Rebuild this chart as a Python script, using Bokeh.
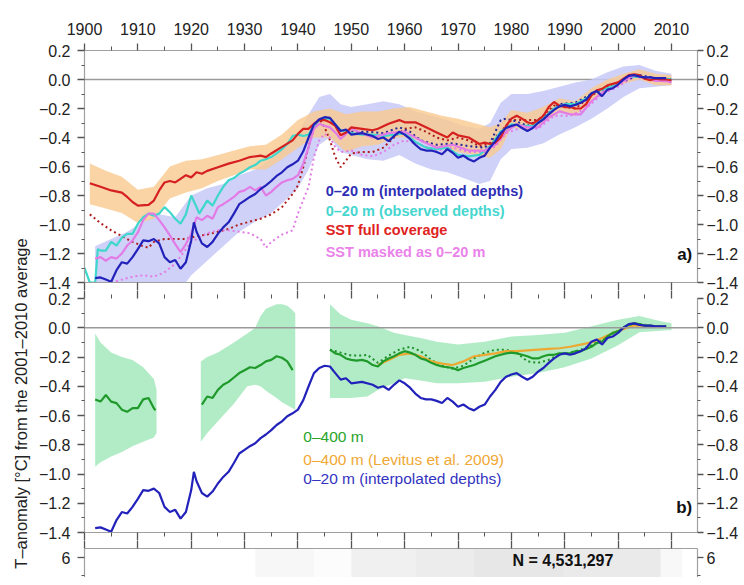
import math
from bokeh.plotting import figure
from bokeh.models import Range1d, LinearAxis, FixedTicker, Span, CustomJSTickFormatter, LinearColorMapper, ColumnDataSource
from bokeh.layouts import column, row
from bokeh.embed import file_html
from bokeh.resources import INLINE
from bokeh.core.properties import value
from bokeh.palettes import Greys256

FONT = "Liberation Sans"

# ---------------- data ----------------
decades = [1900, 1910, 1920, 1930, 1940, 1950, 1960, 1970, 1980, 1990, 2000, 2010]
half_decades = [1905, 1915, 1925, 1935, 1945, 1955, 1965, 1975, 1985, 1995, 2005]
t_ticks = [-1.4, -1.2, -1.0, -0.8, -0.6, -0.4, -0.2, 0.0, 0.2]
t_minor = [-1.3, -1.1, -0.9, -0.7, -0.5, -0.3, -0.1, 0.1]

# SST full coverage (red)
sst_years = [1901, 1903, 1905, 1907, 1908, 1909, 1910, 1912, 1913, 1914,
             1915, 1916, 1917, 1918, 1919, 1920, 1921, 1922, 1923, 1925,
             1927, 1929, 1931, 1933, 1934, 1935, 1937, 1939, 1940, 1941,
             1942, 1943, 1944, 1945, 1946, 1947, 1948, 1949, 1950, 1952,
             1954, 1955, 1957, 1959, 1960, 1962, 1964, 1966, 1968, 1969,
             1970, 1972, 1974, 1975, 1976, 1977, 1978, 1979, 1980, 1981,
             1982, 1983, 1984, 1985, 1986, 1987, 1988, 1989, 1990, 1991,
             1992, 1993, 1994, 1995, 1996, 1997, 1998, 1999, 2000, 2002,
             2003, 2004, 2005, 2006, 2007, 2008, 2009, 2010]
sst_full = [-0.715, -0.74, -0.765, -0.78, -0.81, -0.845, -0.87, -0.865, -0.835, -0.765,
            -0.71, -0.70, -0.71, -0.685, -0.66, -0.675, -0.64, -0.65, -0.63, -0.605,
            -0.58, -0.56, -0.535, -0.525, -0.535, -0.51, -0.465, -0.42, -0.375, -0.34,
            -0.34, -0.305, -0.28, -0.28, -0.295, -0.32, -0.385, -0.365, -0.33, -0.34,
            -0.35, -0.34, -0.305, -0.28, -0.295, -0.295, -0.33, -0.365, -0.40, -0.365,
            -0.385, -0.40, -0.445, -0.435, -0.445, -0.435, -0.40, -0.32, -0.27, -0.25,
            -0.27, -0.295, -0.305, -0.28, -0.25, -0.19, -0.155, -0.18, -0.19, -0.19,
            -0.20, -0.20, -0.17, -0.11, -0.075, -0.065, -0.04, -0.03, -0.02, 0.03,
            0.035, 0.03, 0.005, -0.005, 0.005, 0.0, 0.0, -0.005]

# SST full coverage uncertainty (orange band)
sst_band_years = [1901, 1904, 1907, 1910, 1913, 1916, 1919, 1922, 1925, 1928,
                  1931, 1934, 1937, 1940, 1943, 1946, 1949, 1952, 1955, 1958,
                  1961, 1964, 1967, 1970, 1973, 1976, 1978, 1980, 1983, 1986,
                  1989, 1992, 1995, 1998, 2001, 2004, 2007, 2010]
sst_band_hi = [-0.58, -0.63, -0.67, -0.76, -0.74, -0.60, -0.56, -0.55, -0.52, -0.49,
               -0.46, -0.45, -0.38, -0.28, -0.22, -0.20, -0.24, -0.22, -0.22, -0.20,
               -0.19, -0.22, -0.25, -0.27, -0.30, -0.33, -0.30, -0.21, -0.23, -0.19,
               -0.13, -0.15, -0.06, 0.00, 0.04, 0.07, 0.04, 0.03]
sst_band_lo = [-0.86, -0.89, -0.92, -0.99, -0.96, -0.82, -0.78, -0.75, -0.70, -0.66,
               -0.62, -0.62, -0.55, -0.47, -0.40, -0.40, -0.50, -0.46, -0.45, -0.40,
               -0.40, -0.44, -0.48, -0.50, -0.52, -0.54, -0.48, -0.33, -0.35, -0.30,
               -0.23, -0.25, -0.15, -0.08, -0.03, 0.00, -0.04, -0.04]

# 0-20 m (interpolated depths) (dark blue)
i20_years = [1902, 1903, 1904, 1905, 1906, 1907, 1908, 1909, 1910, 1911,
             1912, 1913, 1914, 1915, 1916, 1917, 1918, 1919, 1920, 1920.5,
             1921, 1922, 1923, 1924, 1925, 1926, 1927, 1928, 1929, 1930,
             1931, 1932, 1933, 1934, 1935, 1936, 1937, 1938, 1939, 1940,
             1941, 1942, 1943, 1944, 1945, 1946, 1947, 1948, 1949, 1950,
             1952, 1954, 1955, 1956, 1957, 1958, 1959, 1960, 1961, 1962,
             1963, 1964, 1965, 1966, 1967, 1968, 1969, 1970, 1971, 1972,
             1973, 1974, 1975, 1976, 1977, 1978, 1979, 1980, 1981, 1982,
             1983, 1984, 1985, 1986, 1987, 1988, 1989, 1990, 1991, 1992,
             1993, 1994, 1995, 1996, 1997, 1998, 1999, 2000, 2001, 2002,
             2003, 2004, 2005, 2006, 2007, 2008, 2009]
i20_vals = [-1.37, -1.365, -1.38, -1.395, -1.315, -1.26, -1.27, -1.225, -1.17, -1.11,
            -1.115, -1.10, -1.13, -1.225, -1.26, -1.245, -1.305, -1.26, -1.11, -0.985,
            -1.05, -1.13, -1.155, -1.12, -1.065, -1.02, -0.985, -0.925, -0.86, -0.835,
            -0.81, -0.79, -0.755, -0.73, -0.70, -0.665, -0.64, -0.605, -0.585, -0.56,
            -0.495, -0.40, -0.31, -0.275, -0.26, -0.265, -0.31, -0.355, -0.345, -0.38,
            -0.37, -0.39, -0.41, -0.40, -0.425, -0.39, -0.36, -0.38, -0.41, -0.45,
            -0.48, -0.49, -0.49, -0.50, -0.515, -0.48, -0.505, -0.54, -0.525, -0.55,
            -0.565, -0.54, -0.525, -0.47, -0.425, -0.37, -0.335, -0.32, -0.31, -0.335,
            -0.355, -0.335, -0.30, -0.275, -0.24, -0.21, -0.185, -0.175, -0.185, -0.175,
            -0.16, -0.14, -0.095, -0.08, -0.115, -0.07, -0.06, -0.035, 0.0, 0.025,
            0.03, 0.02, 0.015, 0.015, 0.01, 0.01, 0.01]

# 0-20 m (interpolated depths) uncertainty (lavender band)
i20_band_years = [1902, 1905, 1908, 1911, 1914, 1917, 1920, 1923, 1926, 1929,
                  1932, 1935, 1938, 1940, 1942, 1944, 1946, 1948, 1950, 1953,
                  1956, 1959, 1962, 1965, 1968, 1971, 1974, 1976, 1978, 1980,
                  1983, 1986, 1989, 1992, 1995, 1998, 2001, 2004, 2007, 2010]
i20_band_hi = [-1.15, -1.10, -1.05, -0.98, -0.93, -0.95, -0.80, -0.75, -0.72, -0.66,
               -0.62, -0.55, -0.45, -0.37, -0.24, -0.12, -0.10, -0.17, -0.19, -0.17,
               -0.15, -0.17, -0.22, -0.25, -0.28, -0.32, -0.34, -0.30, -0.16, -0.10,
               -0.10, -0.08, -0.05, -0.02, 0.00, 0.05, 0.09, 0.10, 0.06, 0.04]
i20_band_lo = [-1.50, -1.50, -1.50, -1.50, -1.50, -1.50, -1.35, -1.25, -1.15, -1.05,
               -0.98, -0.92, -0.82, -0.75, -0.62, -0.45, -0.40, -0.50, -0.52, -0.55,
               -0.56, -0.52, -0.58, -0.62, -0.64, -0.68, -0.72, -0.70, -0.55, -0.48,
               -0.47, -0.44, -0.38, -0.33, -0.27, -0.20, -0.12, -0.06, -0.05, -0.04]

# 0-20 m (observed depths) (cyan)
o20_years = [1900, 1901, 1902, 1902.5, 1903, 1904, 1905, 1906, 1907, 1908,
             1909, 1910, 1911, 1912, 1913, 1914, 1915, 1916, 1917, 1918,
             1919, 1920, 1921, 1921.5, 1923, 1924, 1925, 1926, 1927, 1928,
             1929, 1930, 1931, 1932, 1933, 1934, 1935, 1936, 1937, 1938,
             1939, 1940, 1941, 1942, 1943, 1944, 1945, 1946, 1948, 1950,
             1952, 1954, 1956, 1958, 1960, 1962, 1964, 1966, 1968, 1970,
             1972, 1974, 1976, 1978, 1980, 1982, 1984, 1986, 1988, 1990,
             1992, 1994, 1996, 1998, 2000, 2002, 2004, 2006, 2008, 2010]
o20_vals = [-1.30, -1.40, -1.40, -1.17, -1.18, -1.18, -1.12, -1.145, -1.09, -1.065,
            -1.065, -0.995, -0.95, -0.925, -0.94, -0.925, -0.88, -0.915, -0.96, -0.995,
            -0.93, -0.80, -0.88, -0.925, -0.835, -0.87, -0.80, -0.74, -0.695, -0.68,
            -0.65, -0.63, -0.605, -0.59, -0.56, -0.55, -0.535, -0.51, -0.48, -0.445,
            -0.39, -0.38, -0.39, -0.38, -0.32, -0.28, -0.27, -0.27, -0.35, -0.37,
            -0.38, -0.38, -0.39, -0.38, -0.37, -0.43, -0.47, -0.48, -0.47, -0.52,
            -0.53, -0.52, -0.46, -0.36, -0.31, -0.32, -0.32, -0.27, -0.20, -0.17,
            -0.17, -0.13, -0.08, -0.06, -0.03, 0.02, 0.02, 0.01, 0.01, 0.0]

# SST masked as 0-20 m (violet)
msk_years = [1902, 1903, 1904, 1905, 1906, 1907, 1908, 1909, 1910, 1911,
             1912, 1913, 1914, 1915, 1916, 1917, 1918, 1919, 1920, 1921,
             1922, 1923, 1924, 1925, 1926, 1927, 1928, 1929, 1930, 1931,
             1932, 1933, 1934, 1935, 1936, 1937, 1938, 1939, 1940, 1941,
             1942, 1943, 1944, 1945, 1946, 1947, 1948, 1949, 1950, 1952,
             1954, 1957, 1960, 1963, 1966, 1969, 1972, 1975, 1977, 1979,
             1981, 1983, 1985, 1987, 1989, 1991, 1993, 1995, 1997, 1999,
             2001, 2003, 2005, 2007, 2009, 2010]
msk_vals = [-1.235, -1.225, -1.25, -1.225, -1.235, -1.2, -1.145, -1.11, -1.055, -0.97,
            -0.925, -0.925, -0.97, -1.02, -1.075, -1.135, -1.19, -1.135, -1.065, -0.95,
            -0.97, -0.94, -0.96, -0.88, -0.86, -0.835, -0.81, -0.775, -0.765, -0.74,
            -0.765, -0.74, -0.80, -0.775, -0.74, -0.71, -0.695, -0.685, -0.66, -0.58,
            -0.465, -0.34, -0.305, -0.32, -0.33, -0.365, -0.41, -0.375, -0.34, -0.37,
            -0.40, -0.37, -0.36, -0.42, -0.47, -0.45, -0.49, -0.49, -0.45, -0.36,
            -0.31, -0.33, -0.33, -0.26, -0.22, -0.24, -0.24, -0.15, -0.09, -0.06,
            -0.01, 0.03, 0.01, -0.01, -0.01, -0.02]

# dotted companions (panel a)
sstd_years = [1901, 1903, 1905, 1907, 1909, 1911, 1912, 1913, 1915, 1917,
              1919, 1921, 1923, 1925, 1927, 1929, 1931, 1933, 1935, 1937,
              1939, 1940, 1941, 1942, 1943, 1944, 1945, 1946, 1947, 1948,
              1949, 1950, 1952, 1954, 1956, 1958, 1960, 1962, 1964, 1966,
              1968, 1970, 1972, 1974, 1976, 1978, 1980, 1982, 1985, 1988,
              1990, 1992, 1995, 1998, 2000, 2003, 2005, 2008, 2010]
sstd_vals = [-0.93, -0.99, -1.04, -1.08, -1.12, -1.15, -1.16, -1.12, -1.10, -1.10,
             -1.10, -1.08, -1.07, -1.05, -1.03, -1.00, -0.98, -0.96, -0.93, -0.88,
             -0.79, -0.73, -0.605, -0.465, -0.33, -0.27, -0.33, -0.42, -0.535, -0.605,
             -0.56, -0.51, -0.50, -0.50, -0.47, -0.40, -0.34, -0.33, -0.36, -0.40,
             -0.42, -0.40, -0.42, -0.46, -0.44, -0.36, -0.28, -0.28, -0.28, -0.18,
             -0.19, -0.20, -0.11, -0.05, -0.02, 0.03, 0.01, 0.0, 0.0]

mskd_years = [1905, 1907, 1909, 1911, 1913, 1915, 1917, 1919, 1920, 1921,
              1923, 1925, 1927, 1929, 1931, 1933, 1934, 1935, 1937, 1939,
              1940, 1941, 1942, 1943, 1944, 1945, 1946, 1947, 1948, 1950,
              1952, 1954, 1956, 1958, 1960, 1963, 1966, 1969, 1972, 1975,
              1977, 1979, 1982, 1985, 1988, 1991, 1994, 1997, 2000, 2003,
              2006, 2010]
mskd_vals = [-1.40, -1.38, -1.36, -1.35, -1.36, -1.33, -1.27, -1.17, -1.12, -1.10,
             -1.06, -1.04, -1.04, -1.05, -1.06, -1.10, -1.16, -1.12, -1.07, -1.04,
             -0.925, -0.83, -0.74, -0.535, -0.42, -0.375, -0.40, -0.465, -0.50, -0.49,
             -0.52, -0.53, -0.50, -0.45, -0.42, -0.45, -0.49, -0.47, -0.50, -0.50,
             -0.46, -0.37, -0.33, -0.34, -0.25, -0.25, -0.20, -0.10, -0.05, 0.02,
             0.0, -0.02]

i20d_years = [1950, 1953, 1956, 1959, 1961, 1963, 1966, 1969, 1972, 1975,
              1976, 1977, 1978, 1979, 1981, 1983, 1986, 1989, 1992, 1995,
              1998, 2001, 2004, 2007, 2010]
i20d_vals = [-0.36, -0.36, -0.37, -0.33, -0.36, -0.42, -0.45, -0.44, -0.46, -0.47,
             -0.44, -0.36, -0.28, -0.27, -0.29, -0.32, -0.26, -0.17, -0.16, -0.10,
             -0.06, -0.01, 0.03, 0.01, 0.0]

# 0-400 m (green), three segments
g400_years_1 = [1902, 1903, 1904, 1905, 1906, 1907, 1908, 1909, 1910, 1911, 1912, 1913, 1913.3]
g400_vals_1 = [-0.49, -0.505, -0.46, -0.505, -0.515, -0.56, -0.575, -0.55, -0.55, -0.49, -0.48, -0.55, -0.565]
g400_years_2 = [1922, 1923, 1924, 1925, 1926, 1927, 1928, 1929, 1930, 1931,
                1932, 1933, 1934, 1935, 1936, 1937, 1938, 1939]
g400_vals_2 = [-0.525, -0.47, -0.48, -0.425, -0.39, -0.37, -0.34, -0.31, -0.29, -0.27,
               -0.275, -0.255, -0.23, -0.22, -0.195, -0.205, -0.23, -0.29]
g400_years_3 = [1946, 1947, 1948, 1949, 1950, 1951, 1952, 1953, 1954, 1955,
                1956, 1957, 1958, 1959, 1960, 1961, 1962, 1963, 1964, 1965,
                1966, 1967, 1968, 1969, 1970, 1971, 1972, 1973, 1974, 1975,
                1976, 1977, 1978, 1979, 1980, 1981, 1982, 1983, 1984, 1985,
                1986, 1987, 1988, 1989, 1990, 1991, 1992, 1993, 1994, 1995,
                1996, 1997, 1998, 1999, 2000, 2001, 2002, 2003, 2004, 2005,
                2006, 2007, 2008, 2009]
g400_vals_3 = [-0.15, -0.175, -0.185, -0.21, -0.22, -0.225, -0.22, -0.23, -0.255, -0.265,
               -0.23, -0.21, -0.195, -0.175, -0.16, -0.17, -0.185, -0.21, -0.22, -0.24,
               -0.255, -0.265, -0.27, -0.275, -0.29, -0.275, -0.265, -0.255, -0.24, -0.225,
               -0.21, -0.195, -0.185, -0.175, -0.17, -0.175, -0.185, -0.195, -0.21, -0.21,
               -0.195, -0.185, -0.185, -0.175, -0.175, -0.175, -0.16, -0.16, -0.145, -0.13,
               -0.105, -0.095, -0.06, -0.035, -0.025, 0.0, 0.02, 0.03, 0.025, 0.015,
               0.015, 0.01, 0.01, 0.01]

g400_band_years_1 = [1902, 1903, 1905, 1907, 1909, 1911, 1913, 1913.5]
g400_band_hi_1 = [-0.04, -0.10, -0.17, -0.20, -0.22, -0.27, -0.35, -0.42]
g400_band_lo_1 = [-0.95, -0.92, -0.88, -0.85, -0.81, -0.78, -0.75, -0.72]
g400_band_years_2 = [1921.8, 1923, 1925, 1928, 1930.5, 1932, 1933, 1934, 1936, 1937, 1938, 1939, 1939.5]
g400_band_hi_2 = [-0.23, -0.20, -0.17, -0.10, -0.04, 0.0, 0.08, 0.13, 0.16, 0.16, 0.15, 0.12, 0.10]
g400_band_lo_2 = [-0.78, -0.72, -0.64, -0.52, -0.40, -0.39, -0.40, -0.43, -0.48, -0.51, -0.53, -0.55, -0.56]
g400_band_years_3 = [1946, 1948, 1950, 1953, 1955, 1958, 1960, 1963, 1966, 1970,
                     1975, 1980, 1985, 1990, 1995, 2000, 2004, 2008, 2010]
g400_band_hi_3 = [0.16, 0.09, 0.055, 0.03, 0.01, -0.035, -0.05, -0.07, -0.095, -0.115,
                  -0.095, -0.06, -0.05, -0.035, 0.01, 0.055, 0.08, 0.045, 0.03]
g400_band_lo_3 = [-0.48, -0.48, -0.48, -0.47, -0.425, -0.38, -0.345, -0.36, -0.38, -0.38,
                  -0.37, -0.335, -0.31, -0.27, -0.21, -0.12, -0.03, -0.02, -0.015]

g400d_years = [1946, 1948, 1950, 1952, 1953, 1955, 1957, 1959, 1961, 1963,
               1965, 1967, 1969, 1971, 1973, 1975, 1977, 1979, 1981, 1983,
               1985, 1987, 1989, 1991, 1993, 1995, 1997, 1999, 2001, 2003,
               2005, 2007, 2009]
g400d_vals = [-0.15, -0.17, -0.19, -0.19, -0.185, -0.24, -0.19, -0.15, -0.13, -0.16,
              -0.22, -0.26, -0.28, -0.26, -0.21, -0.17, -0.15, -0.15, -0.17, -0.23,
              -0.24, -0.22, -0.18, -0.17, -0.15, -0.12, -0.08, -0.04, 0.0, 0.03,
              0.02, 0.01, 0.01]

# 0-400 m (Levitus et al. 2009) (orange)
lev_years = [1955, 1957, 1959, 1961, 1963, 1965, 1967, 1969, 1971, 1973,
             1975, 1977, 1979, 1981, 1983, 1985, 1987, 1989, 1991, 1993,
             1995, 1997, 1999, 2001, 2003, 2005, 2007, 2009]
lev_vals = [-0.255, -0.22, -0.185, -0.175, -0.195, -0.23, -0.245, -0.255, -0.23, -0.195,
            -0.185, -0.175, -0.16, -0.16, -0.155, -0.15, -0.145, -0.14, -0.13, -0.115,
            -0.10, -0.07, -0.035, -0.01, 0.015, 0.015, 0.01, 0.005]

# panel c: data density (relative), per year bin
dens_left = [1932, 1943, 1950, 1962, 1973, 1990, 2008]
dens_right = [1943, 1950, 1962, 1973, 1990, 2008, 2012]
dens_val = [0.035, 0.015, 0.06, 0.075, 0.095, 0.085, 0.03]
n_profiles = "N = 4,531,297"

# ---------------- styling helpers ----------------
AX = "#a0a0a0"
TK = "#555555"
X0, X1 = 1900, 2014.88
minus_fmt = CustomJSTickFormatter(code="return tick.toFixed(1).replace('-', '\u2212');")


def panel(frame_h, top_b, bot_b, y0, y1):
    p = figure(frame_width=613, frame_height=frame_h, x_range=Range1d(X0, X1),
               y_range=Range1d(y0, y1), min_border_left=50, min_border_right=39,
               min_border_top=top_b, min_border_bottom=bot_b, toolbar_location=None,
               output_backend="svg", x_axis_location=None, y_axis_location=None, tools="")
    p.grid.visible = False
    p.outline_line_color = None
    p.background_fill_color = "white"
    p.border_fill_color = "white"
    return p


def axis(p, side, ticks, minor, out, minor_out, labels=False, line=True, standoff=6, fmt=None):
    ax = LinearAxis(ticker=FixedTicker(ticks=ticks, minor_ticks=minor))
    ax.major_tick_in = 0
    ax.minor_tick_in = 0
    ax.major_tick_out = out
    ax.minor_tick_out = minor_out
    ax.major_tick_line_color = TK if out > 0 else None
    ax.minor_tick_line_color = TK if minor_out > 0 else None
    ax.axis_line_color = AX if line else None
    ax.axis_line_width = 1.2
    ax.major_tick_line_width = 1.3
    if labels:
        ax.major_label_text_font = FONT
        ax.major_label_text_font_size = "16px"
        ax.major_label_text_color = "#222222"
        ax.major_label_standoff = standoff
        if fmt is not None:
            ax.formatter = fmt
    else:
        ax.major_label_text_font_size = "1px"
        ax.major_label_text_alpha = 0
        ax.major_label_standoff = 0
    p.add_layout(ax, side)
    return ax


def label(p, x, y, txt, color, size="15px", bold=True, align="left"):
    p.text(x=[x], y=[y], text=[txt], text_color=color, text_font=value(FONT),
           text_font_size=size, text_font_style="bold" if bold else "normal",
           text_align=align, text_baseline="middle")


# ---------------- panel a ----------------
pa = panel(232, 50, 8, -1.4, 0.2)
axis(pa, "above", decades, half_decades, 7, 4, labels=True, standoff=9)
axis(pa, "below", decades, [], 8, 0)
axis(pa, "left", t_ticks, t_minor, 7, 3, labels=True, standoff=7, fmt=minus_fmt)
axis(pa, "right", t_ticks, t_minor, 6, 3, labels=True, standoff=3, fmt=minus_fmt)
pa.add_layout(Span(location=0, dimension="width", line_color="#9a9a9a", line_width=1.5, level="underlay"))

pa.varea(x=i20_band_years, y1=i20_band_lo, y2=i20_band_hi, fill_color="#c7c9f7", fill_alpha=0.85)
pa.varea(x=sst_band_years, y1=sst_band_lo, y2=sst_band_hi, fill_color="#f9c98e", fill_alpha=0.8)
pa.line(sstd_years, sstd_vals, line_color="#b01c1c", line_width=2, line_dash="2 3")
pa.line(mskd_years, mskd_vals, line_color="#e37be6", line_width=2, line_dash="2 3")
pa.line(i20d_years, i20d_vals, line_color="#25259a", line_width=2, line_dash="2 3")
pa.line(o20_years, o20_vals, line_color="#3fd6cc", line_width=2.2)
pa.line(msk_years, msk_vals, line_color="#e37be6", line_width=2.2)
pa.line(sst_years, sst_full, line_color="#d62020", line_width=2.2)
pa.line(i20_years, i20_vals, line_color="#2222bb", line_width=2.2)

label(pa, 1945.2, -0.772, "0\u201320 m (interpolated depths)", "#2e2eb4", size="14.5px")
label(pa, 1945.2, -0.905, "0\u201320 m (observed depths)", "#45d6cf", size="14.5px")
label(pa, 1945.2, -1.04, "SST full coverage", "#e02222", size="14.5px")
label(pa, 1945.2, -1.19, "SST masked as 0\u201320 m", "#ea82ea", size="14.5px")
label(pa, 2013.9, -1.205, "a)", "#111111", size="17px", align="right")

# ---------------- panel b ----------------
pb = panel(234, 8, 8, -1.4, 0.2)
axis(pb, "above", decades, half_decades, 8, 4, line=False)
axis(pb, "below", decades, half_decades, 8, 4)
axis(pb, "left", t_ticks, t_minor, 7, 3, labels=True, standoff=7, fmt=minus_fmt)
axis(pb, "right", t_ticks, t_minor, 6, 3, labels=True, standoff=3, fmt=minus_fmt)
pb.add_layout(Span(location=0, dimension="width", line_color="#9a9a9a", line_width=1.5))

for yrs, lo, hi in [(g400_band_years_1, g400_band_lo_1, g400_band_hi_1),
                    (g400_band_years_2, g400_band_lo_2, g400_band_hi_2),
                    (g400_band_years_3, g400_band_lo_3, g400_band_hi_3)]:
    pb.varea(x=yrs, y1=lo, y2=hi, fill_color="#a3e9bd", fill_alpha=0.85)
pb.line(g400d_years, g400d_vals, line_color="#1f8f2a", line_width=2, line_dash="2 3")
pb.line(lev_years, lev_vals, line_color="#eda832", line_width=2.2)
for yrs, vals in [(g400_years_1, g400_vals_1), (g400_years_2, g400_vals_2), (g400_years_3, g400_vals_3)]:
    pb.line(yrs, vals, line_color="#1f9a2a", line_width=2.2)
pb.line(i20_years, i20_vals, line_color="#2222bb", line_width=2.2)

label(pb, 1941.0, -0.747, "0\u2013400 m", "#2aa42a", bold=False, size="15.5px")
label(pb, 1941.0, -0.904, "0\u2013400 m (Levitus et al. 2009)", "#f0a834", bold=False, size="15.5px")
label(pb, 1941.0, -1.034, "0\u201320 m (interpolated depths)", "#3333c0", bold=False, size="15.5px")
label(pb, 2013.9, -1.226, "b)", "#111111", size="17px", align="right")

# ---------------- panel c (top edge only) ----------------
pc = panel(29, 8, 0, 6.5 - 29 / 18.0, 6.5)
axis(pc, "above", decades, [], 8, 0)
axis(pc, "left", [6], [5], 7, 3, labels=True, standoff=7)
axis(pc, "right", [6], [5], 6, 3, labels=True, standoff=3)
cmap = LinearColorMapper(palette=Greys256[::-1], low=0, high=1)
dens_src = ColumnDataSource(data=dict(left=dens_left, right=dens_right, v=dens_val,
                                      bottom=[0] * len(dens_val), top=[6.5] * len(dens_val)))
pc.quad(left="left", right="right", bottom="bottom", top="top",
        fill_color={"field": "v", "transform": cmap}, line_color=None, source=dens_src)
label(pc, 1980.2, 5.83, n_profiles, "#111111", size="16px", bold=True)

# ---------------- y label strip ----------------
lab = figure(width=34, height=577, x_range=Range1d(0, 34), y_range=Range1d(0, 577), min_border=0,
             toolbar_location=None, output_backend="svg", x_axis_location=None,
             y_axis_location=None, tools="")
lab.grid.visible = False
lab.outline_line_color = None
lab.text(x=[20], y=[174], text=["T\u2013anomaly [\u00b0C] from the 2001\u20132010 average"],
         angle=math.pi / 2, text_align="center", text_baseline="middle",
         text_font=value(FONT), text_font_size="16.5px", text_color="#222222")

layout = row(lab, column(pa, pb, pc))
open("out.html", "w").write(file_html(layout, INLINE))
